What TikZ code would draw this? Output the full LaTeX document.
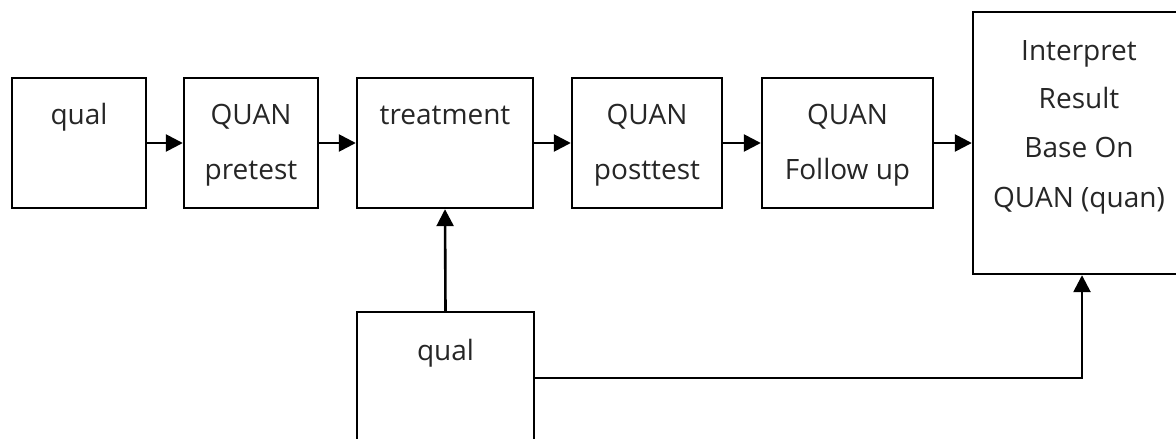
\documentclass[tikz,border=0pt]{standalone}
\usepackage{fontspec}
\setmainfont{Open Sans}
\usetikzlibrary{arrows.meta}
\begin{document}
\begin{tikzpicture}[x=1pt,y=-1pt,
  box/.style={draw=black,line width=2.4pt,rectangle,inner sep=0pt},
  lbl/.style={font=\fontsize{28}{28}\selectfont,anchor=base,inner sep=0pt,text=black!85},
  conn/.style={line width=2.6pt,-{Triangle[length=17pt,width=17pt]}}]
\useasboundingbox[fill=white] (0,0) rectangle (1176,439);
\clip (0,0) rectangle (1176,439);

% process boxes along the top row
\node[box,minimum width=134,minimum height=130] (b1) at (79,143) {};
\node[box,minimum width=134,minimum height=130] (b2) at (251,143) {};
\node[box,minimum width=176,minimum height=130] (b3) at (445,143) {};
\node[box,minimum width=150,minimum height=130] (b4) at (647,143) {};
\node[box,minimum width=171,minimum height=130] (b5) at (847.5,143) {};
\node[box,minimum width=218,minimum height=262] (b6) at (1082,143) {};
% embedded qualitative phase, running off the lower edge
\node[box,minimum width=177,minimum height=132] (q2) at (445.5,378) {};

% box texts
\node[lbl] (t1) at (79,124) {qual};
\node[lbl] (t2a) at (251,124) {QUAN};
\node[lbl] (t2b) at (251,179) {pretest};
\node[lbl] (t3) at (445,124) {treatment};
\node[lbl] (t4a) at (647,124) {QUAN};
\node[lbl] (t4b) at (647,179) {posttest};
\node[lbl] (t5a) at (847.5,124) {QUAN};
\node[lbl] (t5b) at (847.5,179) {Follow up};
\node[lbl] (t6a) at (1079,60) {Interpret};
\node[lbl] (t6b) at (1079,108.5) {Result};
\node[lbl] (t6c) at (1079,157.5) {Base On};
\node[lbl] (t6d) at (1079,207.5) {QUAN (quan)};
\node[lbl] (tq) at (445.5,360) {qual};

% connectors
\draw[conn] (b1.east) -- (b2.west);
\draw[conn] (b2.east) -- (b3.west);
\draw[conn] (b3.east) -- (b4.west);
\draw[conn] (b4.east) -- (b5.west);
\draw[conn] (b5.east) -- (b6.west);
\draw[conn] (q2.north) -- (b3.south);
\draw[conn] (q2.east) -| (b6.south);
\end{tikzpicture}
\end{document}
